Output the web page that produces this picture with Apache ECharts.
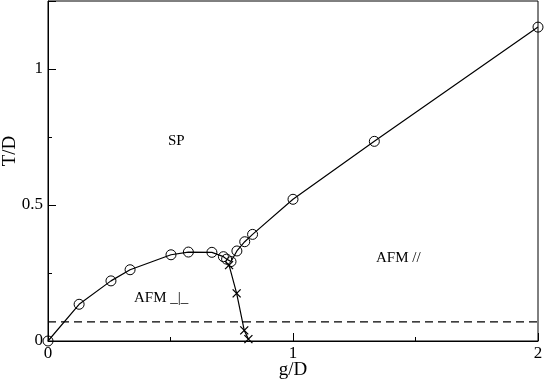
<!DOCTYPE html>
<html>
<head>
<meta charset="utf-8">
<style>
  html, body { margin: 0; padding: 0; background: #fff; }
  #chart { width: 545px; height: 382px; }
</style>
<script src="https://cdn.jsdelivr.net/npm/echarts@6/dist/echarts.min.js"></script>
</head>
<body>
<div id="chart"></div>
<script>
// transition line with open circles
const gCircle = [0, 0.127, 0.257, 0.335, 0.502, 0.573, 0.669, 0.716, 0.729, 0.747, 0.771, 0.803, 0.835, 1.0, 1.332, 2.0]
const tCircle = [0, 0.135, 0.221, 0.262, 0.317, 0.327, 0.326, 0.31, 0.301, 0.292, 0.331, 0.365, 0.392, 0.521, 0.734, 1.154]
// AFM _|_ / AFM // boundary with crosses
const gCross = [0.739, 0.770, 0.801, 0.818]
const tCross = [0.279, 0.175, 0.039, 0.007]
// dashed horizontal level
const gDash = [0, 2]
const tDash = [0.07, 0.07]

const font = 'Liberation Serif'
const zip = (xs, ys) => xs.map((x, i) => [x, ys[i]])

const chart = echarts.init(document.getElementById('chart'), null, { renderer: 'canvas' })

chart.setOption({
  animation: false,
  backgroundColor: '#fff',
  grid: {
    left: 48, right: 7, top: 1, bottom: 41,
    outerBoundsMode: 'none', containLabel: false,
    show: true, borderColor: '#000', borderWidth: 1, backgroundColor: 'transparent'
  },
  xAxis: {
    type: 'value', min: 0, max: 2, interval: 1,
    name: 'g/D', nameLocation: 'middle', nameGap: 20, nameMoveOverlap: false,
    nameTextStyle: { fontFamily: font, fontSize: 19, color: '#000' },
    axisLine: { lineStyle: { color: '#000', width: 1 } },
    axisTick: { inside: true, length: 8, lineStyle: { color: '#000' } },
    minorTick: { show: true, splitNumber: 2, length: 4, lineStyle: { color: '#000' } },
    axisLabel: { fontFamily: font, fontSize: 17, color: '#000', margin: 4 },
    splitLine: { show: false }
  },
  yAxis: {
    type: 'value', min: 0, max: 1.25, interval: 0.5,
    name: 'T/D', nameLocation: 'middle', nameGap: 28, nameRotate: 90, nameMoveOverlap: false,
    // nudge the title upward a bit, as in the original
    nameTextStyle: { fontFamily: font, fontSize: 19, color: '#000', padding: [0, 0, 0, 40] },
    axisLine: { show: true, lineStyle: { color: '#000', width: 1 } },
    axisTick: { show: true, inside: true, length: 8, lineStyle: { color: '#000' } },
    minorTick: { show: true, splitNumber: 2, length: 4, lineStyle: { color: '#000' } },
    axisLabel: {
      fontFamily: font, fontSize: 17, color: '#000', margin: 5,
      formatter: v => (v === 1.25 ? '' : String(v))
    },
    splitLine: { show: false }
  },
  series: [
    {
      type: 'line',
      data: zip(gDash, tDash),
      symbol: 'none',
      lineStyle: { color: '#000', width: 1.2, type: [8, 5] },
      z: 1
    },
    {
      type: 'line',
      data: zip(gCross, tCross),
      symbol: 'path://M0,0L10,10M10,0L0,10',
      symbolSize: 8,
      itemStyle: { color: 'transparent', borderColor: '#000', borderWidth: 1.3 },
      lineStyle: { color: '#000', width: 1.2 },
      z: 2
    },
    {
      type: 'line',
      data: zip(gCircle, tCircle),
      symbol: 'circle',
      symbolSize: 10,
      showAllSymbol: true,
      itemStyle: { color: 'rgba(0,0,0,0)', borderColor: '#000', borderWidth: 1 },
      lineStyle: { color: '#000', width: 1.2 },
      z: 3
    }
  ],
  graphic: [
    { type: 'text', left: 168, top: 134, style: { text: 'SP', font: '15px "Liberation Serif"', fill: '#000' } },
    { type: 'text', left: 376, top: 251, style: { text: 'AFM //', font: '15px "Liberation Serif"', fill: '#000' } },
    { type: 'text', left: 134, top: 291, style: { text: 'AFM _|_', font: '15px "Liberation Serif"', fill: '#000' } }
  ]
})
</script>
</body>
</html>
